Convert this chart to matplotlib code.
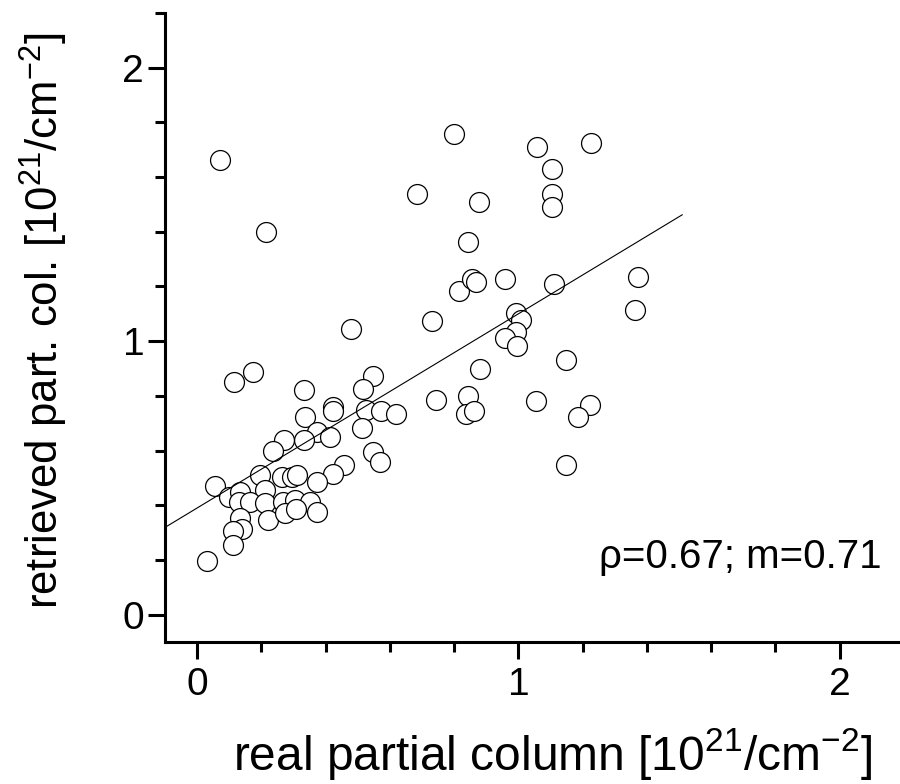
import numpy as np
import matplotlib
matplotlib.use("Agg")
import matplotlib.pyplot as plt
from matplotlib.ticker import MultipleLocator

plt.rcParams['font.family'] = ['Liberation Sans', 'DejaVu Sans']
plt.rcParams['mathtext.fontset'] = 'custom'
plt.rcParams['mathtext.rm'] = 'Liberation Sans'
plt.rcParams['mathtext.it'] = 'Liberation Sans'
plt.rcParams['mathtext.default'] = 'rm'

# real partial column [10^21 / cm^-2]
real_col = [0.071, 0.214, 0.800, 0.685, 0.877, 0.844, 0.816, 0.857, 0.869, 0.959,
            1.058, 1.227, 1.106, 1.106, 1.106, 1.112, 1.373, 1.363, 0.731, 0.993,
            1.009, 0.994, 0.957, 0.996, 1.147, 0.882, 0.743, 0.842, 0.838, 0.861,
            1.055, 1.224, 1.185, 1.148, 0.478, 0.549, 0.517, 0.525, 0.574, 0.619,
            0.512, 0.548, 0.568, 0.458, 0.424, 0.372, 0.114, 0.175, 0.334, 0.424,
            0.424, 0.337, 0.374, 0.415, 0.334, 0.269, 0.237, 0.057, 0.099, 0.134,
            0.196, 0.211, 0.263, 0.294, 0.311, 0.129, 0.165, 0.211, 0.268, 0.304,
            0.351, 0.222, 0.273, 0.308, 0.373, 0.134, 0.139, 0.113, 0.113, 0.030]
# retrieved partial column [10^21 / cm^-2]
retrieved_col = [1.664, 1.398, 1.756, 1.538, 1.508, 1.361, 1.185, 1.227, 1.215, 1.227,
                 1.711, 1.723, 1.628, 1.537, 1.491, 1.209, 1.235, 1.114, 1.073, 1.103,
                 1.077, 1.033, 1.011, 0.982, 0.931, 0.897, 0.785, 0.800, 0.732, 0.743,
                 0.781, 0.766, 0.724, 0.549, 1.044, 0.872, 0.825, 0.747, 0.743, 0.732,
                 0.683, 0.595, 0.559, 0.546, 0.515, 0.484, 0.849, 0.889, 0.822, 0.761,
                 0.743, 0.721, 0.669, 0.650, 0.637, 0.639, 0.600, 0.469, 0.431, 0.450,
                 0.511, 0.456, 0.502, 0.503, 0.511, 0.412, 0.413, 0.407, 0.413, 0.421,
                 0.412, 0.346, 0.370, 0.386, 0.377, 0.352, 0.313, 0.306, 0.254, 0.198]

fit_slope = 0.71
fit_intercept = 0.39
fit_xrange = [-0.1, 1.51]
annotation = "\u03c1=0.67; m=0.71"
tick_vals = [0, 1, 2]
tick_labels = ['0', '1', '2']

fig = plt.figure(figsize=(9, 7.84), dpi=100)
ax = fig.add_axes([0.1833, 0.1811, 0.8167, 0.8023])

ax.scatter(real_col, retrieved_col, s=205, facecolors='white', edgecolors='black',
           linewidths=0.9, zorder=3, clip_on=False)
fx = np.array(fit_xrange)
ax.plot(fx, fit_intercept + fit_slope * fx, color='black', lw=0.8, zorder=4)

ax.set_xlim(-0.1, 2.188)
ax.set_ylim(-0.1, 2.2)

for s in ['top', 'right']:
    ax.spines[s].set_visible(False)
for s in ['left', 'bottom']:
    ax.spines[s].set_linewidth(2.2)

ax.xaxis.set_minor_locator(MultipleLocator(0.2))
ax.yaxis.set_minor_locator(MultipleLocator(0.2))
ax.set_xticks(tick_vals)
ax.set_xticklabels(tick_labels)
ax.set_yticks(tick_vals)
ax.set_yticklabels(tick_labels)
ax.tick_params(which='major', direction='out', length=12, width=2.2, labelsize=28)
ax.tick_params(axis='x', which='major', pad=6)
ax.tick_params(axis='y', which='major', pad=3)
ax.tick_params(which='minor', direction='out', length=7.5, width=2.2)

ax.set_xlabel(r'real partial column [10$^{21}$/cm$^{-2}$]', fontsize=34.5)
ax.set_ylabel(r'retrieved part. col. [10$^{21}$/cm$^{-2}$]', fontsize=31.5)
ax.xaxis.label.set_va('baseline')
ax.yaxis.label.set_va('baseline')
ax.xaxis.set_label_coords(0.527, -0.2035)
ax.yaxis.set_label_coords(-0.145, 0.511)

ax.text(0.975, 0.118, annotation, transform=ax.transAxes, ha='right', va='baseline',
        fontsize=29)

fig.savefig('out.png', dpi=100)
